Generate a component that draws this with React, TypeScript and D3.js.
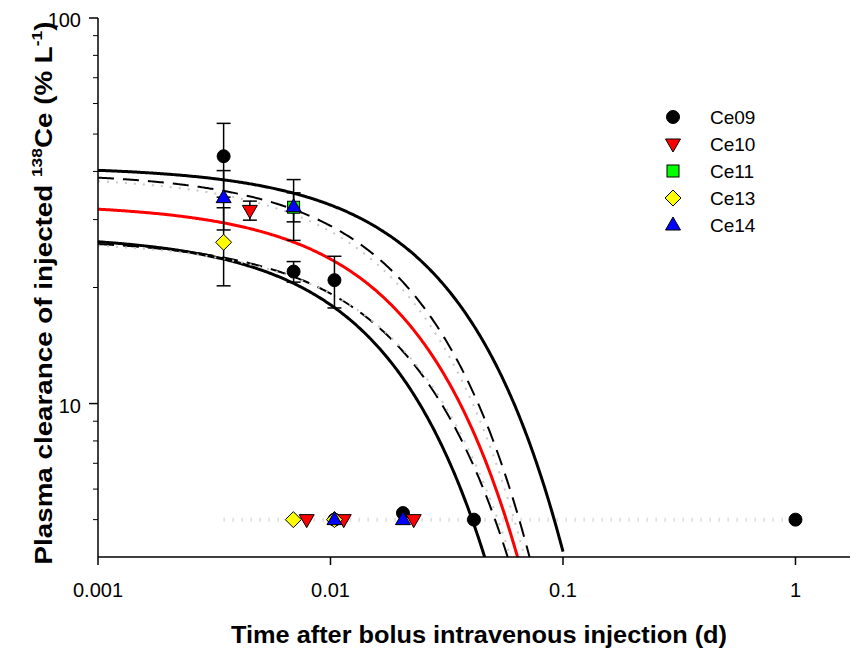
import React from "react";
import * as d3 from "d3";

// ---- data ----
const seriesNames = ["Ce09", "Ce10", "Ce11", "Ce13", "Ce14"];
const seriesColors = ["#000000", "#ff0000", "#00ff00", "#ffff00", "#0000ff"];
const seriesShapes = ["circle", "triDown", "square", "diamond", "triUp"];

// measured points (time d, value, error)
const ce09T = [0.00347, 0.00694, 0.0104];
const ce09V = [43.8, 22.0, 20.9];
const ce09E = [9.5, 1.35, 3.2];
const ce10T = [0.0045];
const ce10V = [31.7];
const ce10E = [1.8];
const ce11T = [0.00694];
const ce11V = [32.3];
const ce11E = [5.8];
const ce13T = [0.00347];
const ce13V = [26.2];
const ce13E = [6.0];
const ce14T = [0.00347, 0.00694];
const ce14V = [34.2, 32.4];
const ce14E = [6.0, 2.8];

// points below limit
const ce09LT = [0.0104, 0.0205, 0.0414, 1.0];
const ce09LV = [5, 5.2, 5, 5];
const ce10LT = [0.0079, 0.0114, 0.0228];
const ce10LV = [5, 5, 5];
const ce11LT: number[] = [];
const ce11LV: number[] = [];
const ce13LT = [0.00692, 0.0104];
const ce13LV = [5, 5];
const ce14LT = [0.0104, 0.0205];
const ce14LV = [5, 5];

const limitLineT = [0.00347, 1.0];
const limitLineV = [5, 5];

// fitted exponential curves C = A * exp(-k t)
const fitNames = ["upperSolid", "lowerSolid", "upperDashed", "lowerDashed", "upperGray", "lowerGray", "mean"];
const fitA = [41.2, 27.4, 39.8, 26.8, 39.0, 26.5, 33.0];
const fitK = [23.0, 41.8, 32.0, 32.9, 33.3, 31.8, 33.1];

const xTickVals = [0.001, 0.01, 0.1, 1];
const xTickLabels = ["0.001", "0.01", "0.1", "1"];
const yMajorVals = [10, 100];
const yMajorLabels = ["10", "100"];
const yMinorVals = [5, 6, 7, 8, 9, 20, 30, 40, 50, 60, 70, 80, 90];

const W = 856;
const H = 650;
const L = 98, R = 850, T = 18, B = 557;

function Marker({ shape, x, y, fill }: { shape: string; x: number; y: number; fill: string }) {
  const s = 1;
  if (shape === "circle") return <circle cx={x} cy={y} r={6.5} fill={fill} stroke="#000" strokeWidth={s} />;
  if (shape === "square") return <rect x={x - 6} y={y - 6} width={12} height={12} fill={fill} stroke="#000" strokeWidth={s} />;
  if (shape === "diamond")
    return <path d={`M${x},${y - 8}L${x + 8},${y}L${x},${y + 8}L${x - 8},${y}Z`} fill={fill} stroke="#000" strokeWidth={s} />;
  if (shape === "triUp")
    return <path d={`M${x},${y - 8}L${x + 7.5},${y + 5}L${x - 7.5},${y + 5}Z`} fill={fill} stroke="#000" strokeWidth={s} />;
  return <path d={`M${x},${y + 8}L${x + 7.5},${y - 5}L${x - 7.5},${y - 5}Z`} fill={fill} stroke="#000" strokeWidth={s} />;
}

export default function App() {
  const x = d3.scaleLog().domain([0.001, 1.716]).range([L, R]);
  const y = d3.scaleLog().domain([4, 100]).range([B, T]);

  const pts = [
    { t: ce09T, v: ce09V, e: ce09E, lt: ce09LT, lv: ce09LV },
    { t: ce10T, v: ce10V, e: ce10E, lt: ce10LT, lv: ce10LV },
    { t: ce11T, v: ce11V, e: ce11E, lt: ce11LT, lv: ce11LV },
    { t: ce13T, v: ce13V, e: ce13E, lt: ce13LT, lv: ce13LV },
    { t: ce14T, v: ce14V, e: ce14E, lt: ce14LT, lv: ce14LV },
  ];

  const tGrid = d3.range(0, 401).map((i) => Math.pow(10, -3 + (i / 400) * 2));
  const curve = (A: number, k: number) =>
    d3.line<number>().x((t) => x(t)).y((t) => y(Math.max(A * Math.exp(-k * t), 0.5)))(tGrid) || "";

  const fitStyle: Record<string, any> = {
    upperSolid: { stroke: "#000", strokeWidth: 3 },
    lowerSolid: { stroke: "#000", strokeWidth: 3 },
    upperDashed: { stroke: "#000", strokeWidth: 2, strokeDasharray: "16,9" },
    lowerDashed: { stroke: "#000", strokeWidth: 2, strokeDasharray: "16,9" },
    upperGray: { stroke: "#c8c8c8", strokeWidth: 2, strokeDasharray: "2,7" },
    lowerGray: { stroke: "#c8c8c8", strokeWidth: 2, strokeDasharray: "2,7" },
    mean: { stroke: "#ff0000", strokeWidth: 3 },
  };

  const font = "Arial, 'Liberation Sans', sans-serif";

  return (
    <svg width={W} height={H} style={{ position: "absolute", left: 0, top: 0, background: "#fff" }}>
      <defs>
        <clipPath id="plotClip">
          <rect x={L} y={T} width={R - L} height={B - T} />
        </clipPath>
      </defs>
      <rect x={0} y={0} width={W} height={H} fill="#fff" />

      {/* limit line */}
      <line
        x1={x(limitLineT[0])}
        x2={x(limitLineT[1])}
        y1={y(limitLineV[0])}
        y2={y(limitLineV[1])}
        stroke="#cccccc"
        strokeWidth={4}
        strokeDasharray="1,8"
      />

      {/* curves */}
      <g clipPath="url(#plotClip)">
        {fitNames.map((n, i) => (
          <path key={n} d={curve(fitA[i], fitK[i])} fill="none" {...fitStyle[n]} />
        ))}
      </g>

      {/* error bars */}
      {pts.map((p, si) =>
        p.t.map((t, j) => {
          const cx = x(t);
          const y1 = y(p.v[j] + p.e[j]);
          const y2 = y(p.v[j] - p.e[j]);
          return (
            <g key={`eb${si}-${j}`} stroke="#000" strokeWidth={1.5}>
              <line x1={cx} x2={cx} y1={y1} y2={y2} />
              <line x1={cx - 7} x2={cx + 7} y1={y1} y2={y1} />
              <line x1={cx - 7} x2={cx + 7} y1={y2} y2={y2} />
            </g>
          );
        })
      )}

      {/* markers */}
      {pts.map((p, si) => (
        <g key={`m${si}`}>
          {p.lt.map((t, j) => (
            <Marker key={`l${j}`} shape={seriesShapes[si]} x={x(t)} y={y(p.lv[j])} fill={seriesColors[si]} />
          ))}
          {p.t.map((t, j) => (
            <Marker key={`p${j}`} shape={seriesShapes[si]} x={x(t)} y={y(p.v[j])} fill={seriesColors[si]} />
          ))}
        </g>
      ))}

      {/* axes */}
      <line x1={L} x2={R} y1={B} y2={B} stroke="#000" strokeWidth={1.5} />
      <line x1={L} x2={L} y1={T} y2={B} stroke="#000" strokeWidth={1.5} />
      {xTickVals.map((v, i) => (
        <g key={`xt${i}`}>
          <line x1={x(v)} x2={x(v)} y1={B} y2={B + 8} stroke="#000" strokeWidth={1.5} />
          <text x={x(v)} y={597} textAnchor="middle" fontFamily={font} fontSize={20}>
            {xTickLabels[i]}
          </text>
        </g>
      ))}
      {yMajorVals.map((v, i) => (
        <g key={`ym${i}`}>
          <line x1={L - 9} x2={L} y1={y(v)} y2={y(v)} stroke="#000" strokeWidth={1.5} />
          <text x={81} y={y(v) + 9} textAnchor="end" fontFamily={font} fontSize={20}>
            {yMajorLabels[i]}
          </text>
        </g>
      ))}
      {yMinorVals.map((v, i) => (
        <line key={`yn${i}`} x1={L - 5} x2={L} y1={y(v)} y2={y(v)} stroke="#000" strokeWidth={1} />
      ))}

      {/* axis titles */}
      <text
        x={479}
        y={643}
        textAnchor="middle"
        fontFamily={font}
        fontSize={23}
        fontWeight="bold"
        textLength={496}
        lengthAdjust="spacingAndGlyphs"
      >
        Time after bolus intravenous injection (d)
      </text>
      <text
        transform="translate(52,293) rotate(-90)"
        textAnchor="middle"
        fontFamily={font}
        fontSize={24}
        fontWeight="bold"
        textLength={543}
        lengthAdjust="spacingAndGlyphs"
      >
        Plasma clearance of injected{" "}
        <tspan fontSize={15} dy={-10}>138</tspan>
        <tspan dy={10}>Ce (% L</tspan>
        <tspan fontSize={15} dy={-10}>-1</tspan>
        <tspan dy={10}>)</tspan>
      </text>

      {/* legend */}
      {seriesNames.map((n, i) => (
        <g key={`lg${i}`}>
          <Marker shape={seriesShapes[i]} x={673} y={117 + i * 27} fill={seriesColors[i]} />
          <text x={710} y={117 + i * 27 + 7} fontFamily={font} fontSize={19}>
            {n}
          </text>
        </g>
      ))}
    </svg>
  );
}
